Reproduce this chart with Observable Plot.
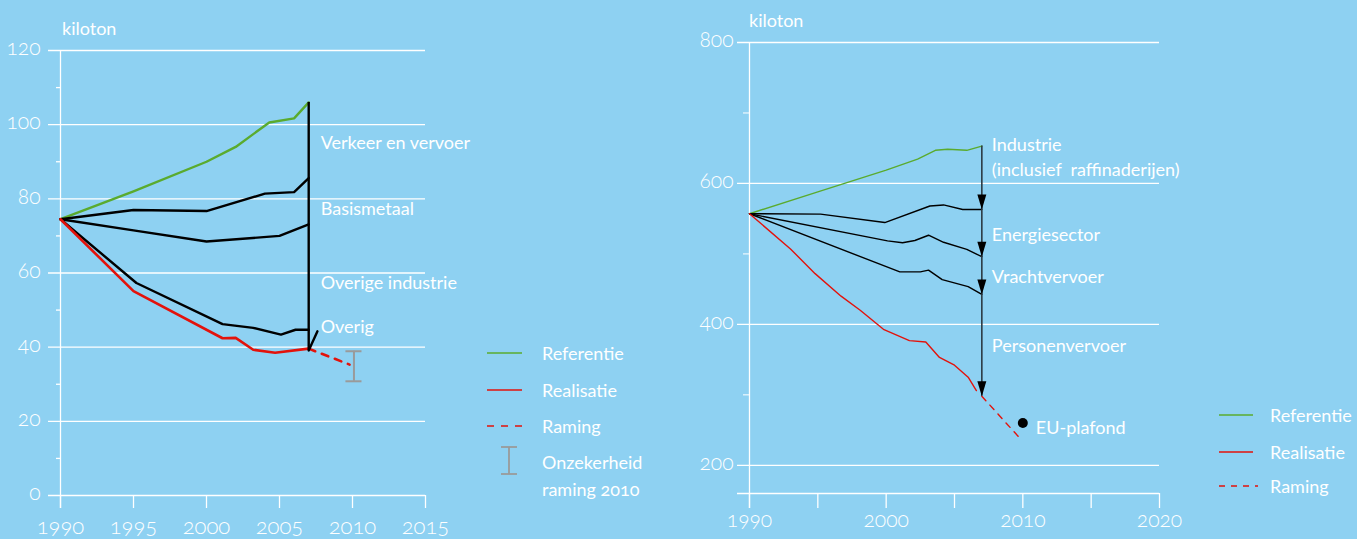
<!DOCTYPE html>
<html><head><meta charset="utf-8">
<script src="https://cdn.jsdelivr.net/npm/d3@7"></script>
<script src="https://cdn.jsdelivr.net/npm/@observablehq/plot@0.6"></script>
<style>
html,body{margin:0;padding:0;background:#8ed1f2;}
#wrap{position:relative;width:1357px;height:539px;overflow:hidden;font-family:Lato,"Noto Sans",sans-serif;color:#fff;font-variant-numeric:oldstyle-nums;font-feature-settings:"onum" 1;}
.chart{position:absolute;top:0;}
.txt{position:absolute;white-space:nowrap;line-height:1;transform:translateY(-50%);}
.leg{position:absolute;top:0;left:0;}
</style></head><body><div id="wrap"></div><script>
// ---------- LEFT CHART DATA ----------
const leftYTicks = [0, 20, 40, 60, 80, 100, 120];
const leftYMinor = [10, 30, 50, 70, 90, 110];
const leftXTicks = [1990, 1995, 2000, 2005, 2010, 2015];

const leftRefYears   = [1990, 1995, 2000, 2002, 2004.3, 2006, 2007];
const leftRefValues  = [74.5, 82, 90, 94, 100.6, 101.7, 106];
const leftBasisYears = [1990, 1995, 2000, 2004, 2006, 2007];
const leftBasisValues= [74.5, 77, 76.7, 81.4, 81.8, 85.6];
const leftOvIndYears = [1990, 1995, 2000, 2005, 2007];
const leftOvIndValues= [74.5, 71.5, 68.5, 70, 73.1];
const leftOvYears    = [1990, 1995.2, 2001.1, 2003.2, 2005.1, 2006.1, 2007];
const leftOvValues   = [74.5, 57.3, 46.2, 45.2, 43.4, 44.7, 44.7];
const leftRealYears  = [1990, 1995, 2001.1, 2002, 2003.2, 2004.7, 2007];
const leftRealValues = [74.5, 55.1, 42.4, 42.5, 39.3, 38.5, 39.6];
const leftRamYears   = [2007, 2009.8];
const leftRamValues  = [39.6, 35.3];
const leftTailYears  = [2007, 2007.6];
const leftTailValues = [39.1, 44.3];
const leftShaft      = {year: 2007, low: 39.1, high: 106};
const leftUnc        = {year: 2010.1, low: 30.8, high: 38.9, half: 0.55};
const leftLabels     = ["Verkeer en vervoer", "Basismetaal", "Overige industrie", "Overig"];
const leftLabelY     = [94.9, 77.1, 57.2, 45.3];

// ---------- RIGHT CHART DATA ----------
const rightYTicks = [200, 400, 600, 800];
const rightYMinor = [300, 500, 700];
const rightXTicks = [1990, 1995, 2000, 2005, 2010, 2015, 2020];
const rightXLabels = [1990, 2000, 2010, 2020];

const rightRefYears   = [1990, 1995, 2000, 2002.3, 2003.6, 2004.5, 2005.9, 2007];
const rightRefValues  = [557, 588, 619, 634.5, 647, 648.5, 647, 653];
const rightIndYears   = [1990, 1995.2, 1999.9, 2003.2, 2004.2, 2005.6, 2007];
const rightIndValues  = [557, 556.5, 544.5, 568, 569.5, 563, 563];
const rightEnYears    = [1990, 2000.1, 2001.2, 2002.1, 2003.1, 2004.2, 2005.9, 2007];
const rightEnValues   = [557, 518.5, 515.8, 519, 526.5, 516.5, 506.5, 496];
const rightVrYears    = [1990, 2001, 2002.5, 2003.1, 2004.1, 2006, 2007];
const rightVrValues   = [557, 474.5, 474.5, 477, 463.5, 453.5, 442.5];
const rightRealYears  = [1990, 1993, 1994.8, 1996.7, 1998.1, 1999.8, 2001.7, 2002.9, 2003.9, 2005, 2006, 2006.6];
const rightRealValues = [557, 507, 472, 440, 420, 393, 377, 375, 353, 342, 325, 306];
const rightRamYears   = [2007, 2009.9];
const rightRamValues  = [298, 236];
const rightShaft      = {year: 2007, low: 298, high: 653};
const rightArrowTips  = [563, 496, 442.5, 298];
const rightEU         = {year: 2010, value: 260, label: "EU-plafond"};
const rightLabels     = ["Industrie", "(inclusief  raffinaderijen)", "Energiesector", "Vrachtvervoer", "Personenvervoer"];
const rightLabelY     = [654, 618.6, 526.6, 467, 369];

// ---------- STYLE ----------
const WHITE = "#ffffff", GREEN = "#5aab2e", RED = "#e3120b", BLACK = "#000000", GRAY = "#9a9a9a";
const numFont = "Lato, 'Noto Sans', sans-serif";
const txtFont = "Lato, 'Noto Sans', sans-serif";

const ser = (ys, vs) => ys.map((y, i) => ({year: y, value: vs[i]}));

// ---------- LEFT PLOT ----------
const left = Plot.plot({
  width: 470, height: 539,
  marginLeft: 60, marginRight: 45, marginTop: 50, marginBottom: 44,
  style: {background: "transparent", overflow: "visible", fontFamily: txtFont},
  x: {domain: [1990, 2015], axis: null},
  y: {domain: [0, 120], axis: null},
  marks: [
    Plot.ruleY(leftYTicks, {stroke: WHITE, strokeWidth: 1.3, insetLeft: -12}),
    Plot.axisY(leftYMinor, {tickSize: 4, tickFormat: () => "", stroke: WHITE, strokeWidth: 1.3, label: null}),
    Plot.axisY(leftYTicks, {tickSize: 0, tickPadding: 20, fill: WHITE, label: null, fontSize: 21, fontWeight: 300, fontFamily: numFont, dy: -2}),
    Plot.ruleX([1990], {stroke: WHITE, strokeWidth: 1.3, insetBottom: -13}),
    Plot.axisX(leftXTicks, {tickSize: 13, tickPadding: 10, stroke: WHITE, strokeWidth: 1.3, fill: WHITE, label: null, tickFormat: d => String(d), fontSize: 22, fontWeight: 300, fontFamily: numFont}),
    Plot.line(ser(leftRefYears, leftRefValues), {x: "year", y: "value", stroke: GREEN, strokeWidth: 2.4}),
    Plot.line(ser(leftBasisYears, leftBasisValues), {x: "year", y: "value", stroke: BLACK, strokeWidth: 2.4}),
    Plot.line(ser(leftOvIndYears, leftOvIndValues), {x: "year", y: "value", stroke: BLACK, strokeWidth: 2.4}),
    Plot.line(ser(leftOvYears, leftOvValues), {x: "year", y: "value", stroke: BLACK, strokeWidth: 2.4}),
    Plot.line(ser(leftRealYears, leftRealValues), {x: "year", y: "value", stroke: RED, strokeWidth: 2.6}),
    Plot.line(ser(leftRamYears, leftRamValues), {x: "year", y: "value", stroke: RED, strokeWidth: 2.6, strokeDasharray: "7,7"}),
    Plot.ruleX([leftShaft], {x: "year", y1: "low", y2: "high", stroke: BLACK, strokeWidth: 2.4}),
    Plot.line(ser(leftTailYears, leftTailValues), {x: "year", y: "value", stroke: BLACK, strokeWidth: 2.4}),
    Plot.ruleX([leftUnc], {x: "year", y1: "low", y2: "high", stroke: GRAY, strokeWidth: 2}),
    Plot.ruleY([leftUnc], {y: "low", x1: d => d.year - d.half, x2: d => d.year + d.half, stroke: GRAY, strokeWidth: 2}),
    Plot.ruleY([leftUnc], {y: "high", x1: d => d.year - d.half, x2: d => d.year + d.half, stroke: GRAY, strokeWidth: 2}),
    Plot.text(leftLabels, {x: () => leftShaft.year, y: (d, i) => leftLabelY[i], text: d => d, dx: 12, textAnchor: "start", fill: WHITE, fontSize: 18, fontFamily: txtFont})
  ]
});

// ---------- RIGHT PLOT ----------
const arrowDown = {draw(ctx) { ctx.moveTo(0, 0); ctx.lineTo(-4.5, -15); ctx.lineTo(4.5, -15); ctx.closePath(); }};
const right = Plot.plot({
  width: 520, height: 539,
  marginLeft: 69, marginRight: 41, marginTop: 42, marginBottom: 46,
  style: {background: "transparent", overflow: "visible", fontFamily: txtFont},
  x: {domain: [1990, 2020], axis: null},
  y: {domain: [160, 800], axis: null},
  marks: [
    Plot.ruleY(rightYTicks.concat([160]), {stroke: WHITE, strokeWidth: 1.3, insetLeft: -12}),
    Plot.axisY(rightYMinor, {tickSize: 6, tickFormat: () => "", stroke: WHITE, strokeWidth: 1, label: null}),
    Plot.axisY(rightYTicks, {tickSize: 0, tickPadding: 16, fill: WHITE, label: null, fontSize: 21, fontWeight: 300, fontFamily: numFont, dy: -2}),
    Plot.ruleX([1990], {stroke: WHITE, strokeWidth: 1.3, insetBottom: -15}),
    Plot.axisX(rightXTicks, {tickSize: 15, tickPadding: 4, stroke: WHITE, strokeWidth: 1.3, fill: WHITE, label: null, tickFormat: d => rightXLabels.includes(d) ? String(d) : "", fontSize: 21, fontWeight: 300, fontFamily: numFont}),
    Plot.line(ser(rightRefYears, rightRefValues), {x: "year", y: "value", stroke: GREEN, strokeWidth: 1.4}),
    Plot.line(ser(rightIndYears, rightIndValues), {x: "year", y: "value", stroke: BLACK, strokeWidth: 1.4}),
    Plot.line(ser(rightEnYears, rightEnValues), {x: "year", y: "value", stroke: BLACK, strokeWidth: 1.4}),
    Plot.line(ser(rightVrYears, rightVrValues), {x: "year", y: "value", stroke: BLACK, strokeWidth: 1.4}),
    Plot.line(ser(rightRealYears, rightRealValues), {x: "year", y: "value", stroke: RED, strokeWidth: 1.4}),
    Plot.line(ser(rightRamYears, rightRamValues), {x: "year", y: "value", stroke: RED, strokeWidth: 1.4, strokeDasharray: "6,6"}),
    Plot.ruleX([rightShaft], {x: "year", y1: "low", y2: "high", stroke: "#2c3a44", strokeWidth: 1.6}),
    Plot.dot(rightArrowTips, {x: () => rightShaft.year, y: d => d, symbol: arrowDown, fill: BLACK, stroke: "none", r: 5}),
    Plot.dot([rightEU], {x: "year", y: "value", r: 5, fill: BLACK}),
    Plot.text([rightEU], {x: "year", y: "value", text: "label", dx: 13, dy: 5, textAnchor: "start", fill: WHITE, fontSize: 18, fontFamily: txtFont}),
    Plot.text(rightLabels, {x: () => rightShaft.year, y: (d, i) => rightLabelY[i], text: d => d, dx: 10, textAnchor: "start", fill: WHITE, fontSize: 18, fontFamily: txtFont})
  ]
});

const wrap = document.getElementById("wrap");
left.classList.add("chart"); left.style.left = "0px";
right.classList.add("chart"); right.style.left = "680px";
wrap.appendChild(left);
wrap.appendChild(right);
d3.selectAll("#wrap svg text")
  .style("font-variant-numeric", "oldstyle-nums")
  .style("font-feature-settings", '"onum" 1');

// units
function addText(t, x, y, size) {
  const d = document.createElement("div");
  d.className = "txt"; d.textContent = t;
  d.style.left = x + "px"; d.style.top = y + "px"; d.style.fontSize = size + "px";
  wrap.appendChild(d);
}
addText("kiloton", 62, 28, 18);
addText("kiloton", 749, 20, 18);

// legends
const leftLegend = [
  {label: "Referentie", color: GREEN, dash: null, y: 353},
  {label: "Realisatie", color: RED, dash: null, y: 390},
  {label: "Raming", color: RED, dash: "7,7", y: 426},
];
const rightLegend = [
  {label: "Referentie", color: GREEN, dash: null, y: 415},
  {label: "Realisatie", color: RED, dash: null, y: 452},
  {label: "Raming", color: RED, dash: "6,6", y: 486},
];
const svg = d3.select(wrap).append("svg").attr("class", "leg").attr("width", 1357).attr("height", 539).style("position", "absolute");
function drawLegend(items, x0, len, tx) {
  items.forEach(it => {
    svg.append("line").attr("x1", x0).attr("x2", x0 + (it.dash ? len + 5 : len)).attr("y1", it.y).attr("y2", it.y)
      .attr("stroke", it.color).attr("stroke-width", 1.5).attr("stroke-dasharray", it.dash);
    addText(it.label, tx, it.y, 18);
  });
}
drawLegend(leftLegend, 487, 35, 542);
drawLegend(rightLegend, 1219, 34, 1270);
// uncertainty legend symbol
svg.append("line").attr("x1", 509).attr("x2", 509).attr("y1", 447).attr("y2", 474).attr("stroke", GRAY).attr("stroke-width", 1.8);
svg.append("line").attr("x1", 501).attr("x2", 517).attr("y1", 447).attr("y2", 447).attr("stroke", GRAY).attr("stroke-width", 1.8);
svg.append("line").attr("x1", 501).attr("x2", 517).attr("y1", 474).attr("y2", 474).attr("stroke", GRAY).attr("stroke-width", 1.8);
addText("Onzekerheid", 542, 462, 18);
addText("raming 2010", 542, 489, 18);
</script></body></html>
